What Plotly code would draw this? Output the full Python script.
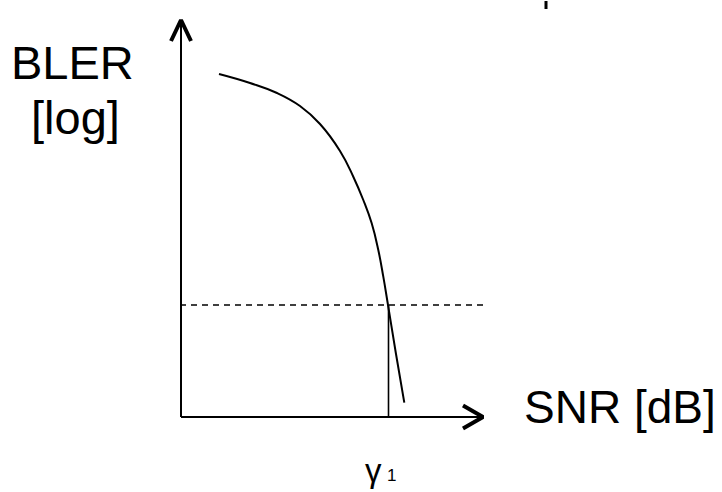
import plotly.graph_objects as go

# BLER curve (arbitrary units, origin at the axes corner)
snr = [3.8, 6.9, 9.6, 11.9, 13.9, 15.9, 17.23, 18.23, 19.07, 19.73, 20.23, 20.7, 21.5, 22.33]
bler = [34.3, 33.4, 32.4, 31.1, 29.3, 26.6, 24.03, 21.7, 19.37, 16.7, 14.03, 11.2, 6.3, 1.43]

# target BLER level and the threshold SNR gamma_1
target_bler = 11.2
gamma1 = 20.75
dash_x = [-0.1, 30.2]

# axis extents
x_axis_end = 30.2
y_axis_end = 39.7

fig = go.Figure()

# axes
fig.add_trace(go.Scatter(x=[0, 0], y=[0, y_axis_end], mode="lines",
                         line=dict(color="black", width=2), hoverinfo="skip"))
fig.add_trace(go.Scatter(x=[0, x_axis_end], y=[0, 0], mode="lines",
                         line=dict(color="black", width=2), hoverinfo="skip"))

# open arrow heads
fig.add_trace(go.Scatter(x=[-1.0, 0, 1.0], y=[y_axis_end - 2.1, y_axis_end, y_axis_end - 2.1],
                         mode="lines", line=dict(color="black", width=4), hoverinfo="skip"))
fig.add_trace(go.Scatter(x=[x_axis_end - 2.0, x_axis_end, x_axis_end - 2.0], y=[1.15, 0, -1.15],
                         mode="lines", line=dict(color="black", width=4), hoverinfo="skip"))

# BLER curve
fig.add_trace(go.Scatter(x=snr, y=bler, mode="lines",
                         line=dict(color="black", width=2, shape="spline", smoothing=1.3),
                         hoverinfo="skip"))

# target level (dashed) and gamma_1 marker line
fig.add_trace(go.Scatter(x=dash_x, y=[target_bler, target_bler], mode="lines",
                         line=dict(color="black", width=1.6, dash="6px,5px"), hoverinfo="skip"))
fig.add_trace(go.Scatter(x=[gamma1, gamma1], y=[0, target_bler], mode="lines",
                         line=dict(color="black", width=1.6), hoverinfo="skip"))

# tiny stray mark at the top edge of the original slide
fig.add_trace(go.Scatter(x=[36.5, 36.5], y=[41.6, 40.8], mode="lines",
                         line=dict(color="black", width=3), hoverinfo="skip"))

font = "Liberation Sans, Arial, sans-serif"
fig.add_annotation(x=-10.9, y=35.5, text="BLER", showarrow=False,
                   font=dict(family=font, size=47, color="black"))
fig.add_annotation(x=-10.6, y=30.0, text="[log]", showarrow=False,
                   font=dict(family=font, size=47, color="black"))
fig.add_annotation(x=43.9, y=1.0, text="SNR [dB]", showarrow=False,
                   font=dict(family=font, size=46, color="black"))
fig.add_annotation(x=19.2, y=-5.3, text="γ", showarrow=False,
                   font=dict(family=font, size=33, color="black"))
fig.add_annotation(x=21.0, y=-5.8, text="1", showarrow=False,
                   font=dict(family=font, size=17, color="black"))

fig.update_layout(
    width=722, height=492,
    margin=dict(l=0, r=0, t=0, b=0),
    paper_bgcolor="white", plot_bgcolor="white",
    showlegend=False,
    xaxis=dict(range=[-18.1, 54.1], visible=False, fixedrange=True),
    yaxis=dict(range=[-7.5, 41.7], visible=False, fixedrange=True),
)

# drop the default body margin so the figure sits at the window corner
fig.write_html("out.html", config={"displayModeBar": False},
               post_script="document.body.style.margin='0';")
